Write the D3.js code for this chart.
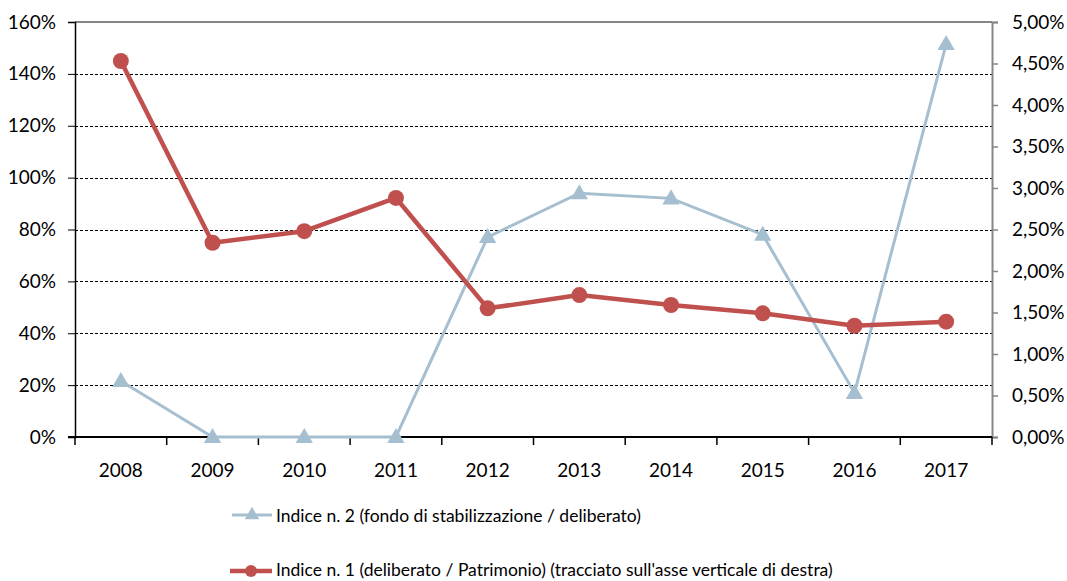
<!DOCTYPE html>
<html>
<head>
<meta charset="utf-8">
<script src="https://cdn.jsdelivr.net/npm/d3@7"></script>
<style>
  body { margin: 0; background: #fff; }
  text { font-family: Lato, "Open Sans", sans-serif; fill: #000; }
</style>
</head>
<body>
<script>
var years = ["2008", "2009", "2010", "2011", "2012", "2013", "2014", "2015", "2016", "2017"];
// Indice n. 2, left axis
var indice2 = [0.216, 0, 0, 0, 0.771, 0.94, 0.92, 0.78, 0.17, 1.515];
// Indice n. 1, right axis
var indice1 = [0.0453, 0.0234, 0.0248, 0.0288, 0.0155, 0.0171, 0.0159, 0.0149, 0.0134, 0.0139];
var leftTicks = [0, 0.2, 0.4, 0.6, 0.8, 1.0, 1.2, 1.4, 1.6];
var rightTicks = [0, 0.005, 0.01, 0.015, 0.02, 0.025, 0.03, 0.035, 0.04, 0.045, 0.05];
var legendLabels = [
    "Indice n. 2 (fondo di stabilizzazione / deliberato)",
    "Indice n. 1 (deliberato / Patrimonio) (tracciato sull'asse verticale di destra)"
];

var w = 1067;
var h = 581;
// plot edges (avoid "top", it clashes with window.top)
var pL = 75, pR = 992, pT = 22, pB = 437;
var red = "#C0504D";
var blue = "#A6BFD0";

var svg = d3.select("body")
    .append("svg")
    .attr("width", w)
    .attr("height", h);

var x = d3.scaleBand()
    .domain(years)
    .range([pL, pR])
    .padding(0);

var yL = d3.scaleLinear()
    .domain([0, 1.6])
    .range([pB, pT]);

var yR = d3.scaleLinear()
    .domain([0, 0.05])
    .range([pB, pT]);

var itLocale = d3.formatLocale({decimal: ",", thousands: ".", grouping: [3], currency: ["", "€"]});

// dashed gridlines
svg.append("g")
    .selectAll("line")
    .data(leftTicks.filter(function(d) { return d > 0 && d < 1.6; }))
    .enter()
    .append("line")
    .attr("x1", pL)
    .attr("x2", pR)
    .attr("y1", function(d) { return Math.round(yL(d)) + 0.5; })
    .attr("y2", function(d) { return Math.round(yL(d)) + 0.5; })
    .attr("stroke", "#000")
    .attr("stroke-width", 1)
    .attr("stroke-dasharray", "3,2");

// top border
svg.append("line")
    .attr("x1", pL).attr("x2", pR)
    .attr("y1", pT).attr("y2", pT)
    .attr("stroke", "#868686")
    .attr("stroke-width", 2);

// left axis
var axL = svg.append("g")
    .attr("transform", "translate(" + pL + ",0)")
    .call(d3.axisLeft(yL)
        .tickValues(leftTicks)
        .tickFormat(d3.format(".0%"))
        .tickSize(7)
        .tickPadding(12));
axL.select(".domain").attr("stroke", "#000").attr("stroke-width", 1.5);
axL.selectAll(".tick line").attr("stroke", "#000");
axL.selectAll("text").style("font-size", "19px").style("font-family", "Lato, sans-serif");

// right axis
var axR = svg.append("g")
    .attr("transform", "translate(" + pR + ",0)")
    .call(d3.axisRight(yR)
        .tickValues(rightTicks)
        .tickFormat(itLocale.format(".2%"))
        .tickSize(6)
        .tickPadding(14));
axR.select(".domain").attr("stroke", "#868686").attr("stroke-width", 2);
axR.selectAll(".tick line").attr("stroke", "#868686").attr("stroke-width", 1.5);
axR.selectAll("text").style("font-size", "19px").style("font-family", "Lato, sans-serif");

// x axis
var edges = years.map(function(d) { return x(d); }).concat([pR]);
svg.append("g")
    .selectAll("line")
    .data(edges)
    .enter()
    .append("line")
    .attr("x1", function(d) { return d; })
    .attr("x2", function(d) { return d; })
    .attr("y1", pB)
    .attr("y2", pB + 8)
    .attr("stroke", "#000")
    .attr("stroke-width", 1.5);
svg.append("line")
    .attr("x1", pL - 7).attr("x2", pR)
    .attr("y1", pB).attr("y2", pB)
    .attr("stroke", "#000")
    .attr("stroke-width", 2);
svg.append("g")
    .selectAll("text")
    .data(years)
    .enter()
    .append("text")
    .attr("x", function(d) { return x(d) + x.bandwidth() / 2; })
    .attr("y", 477)
    .attr("text-anchor", "middle")
    .style("font-size", "19px")
    .text(function(d) { return d; });

function cx(d, i) { return x(years[i]) + x.bandwidth() / 2; }

var tri = d3.symbol().type(d3.symbolTriangle).size(130);

// Indice n. 2
svg.append("path")
    .datum(indice2)
    .attr("fill", "none")
    .attr("stroke", blue)
    .attr("stroke-width", 3)
    .attr("d", d3.line().x(cx).y(function(d) { return yL(d); }));
svg.append("g")
    .selectAll("path")
    .data(indice2)
    .enter()
    .append("path")
    .attr("d", tri)
    .attr("fill", blue)
    .attr("transform", function(d, i) { return "translate(" + cx(d, i) + "," + (yL(d) + 1) + ")"; });

// Indice n. 1
svg.append("path")
    .datum(indice1)
    .attr("fill", "none")
    .attr("stroke", red)
    .attr("stroke-width", 4.5)
    .attr("stroke-linejoin", "round")
    .attr("d", d3.line().x(cx).y(function(d) { return yR(d); }));
svg.append("g")
    .selectAll("circle")
    .data(indice1)
    .enter()
    .append("circle")
    .attr("cx", cx)
    .attr("cy", function(d) { return yR(d); })
    .attr("r", 8)
    .attr("fill", red);

// legend
var lg1 = svg.append("g").attr("transform", "translate(0,515)");
lg1.append("line").attr("x1", 232).attr("x2", 272).attr("y1", 0).attr("y2", 0)
    .attr("stroke", blue).attr("stroke-width", 3);
lg1.append("path").attr("d", d3.symbol().type(d3.symbolTriangle).size(90)).attr("fill", blue)
    .attr("transform", "translate(252,0)");
lg1.append("text").attr("x", 276).attr("y", 7).style("font-size", "17.5px").text(legendLabels[0]);

var lg2 = svg.append("g").attr("transform", "translate(0,571)");
lg2.append("line").attr("x1", 230).attr("x2", 272).attr("y1", 0).attr("y2", 0)
    .attr("stroke", red).attr("stroke-width", 4.5);
lg2.append("circle").attr("cx", 251).attr("cy", 0).attr("r", 6).attr("fill", red);
lg2.append("text").attr("x", 276).attr("y", 5).style("font-size", "17.5px").text(legendLabels[1]);
</script>
</body>
</html>
